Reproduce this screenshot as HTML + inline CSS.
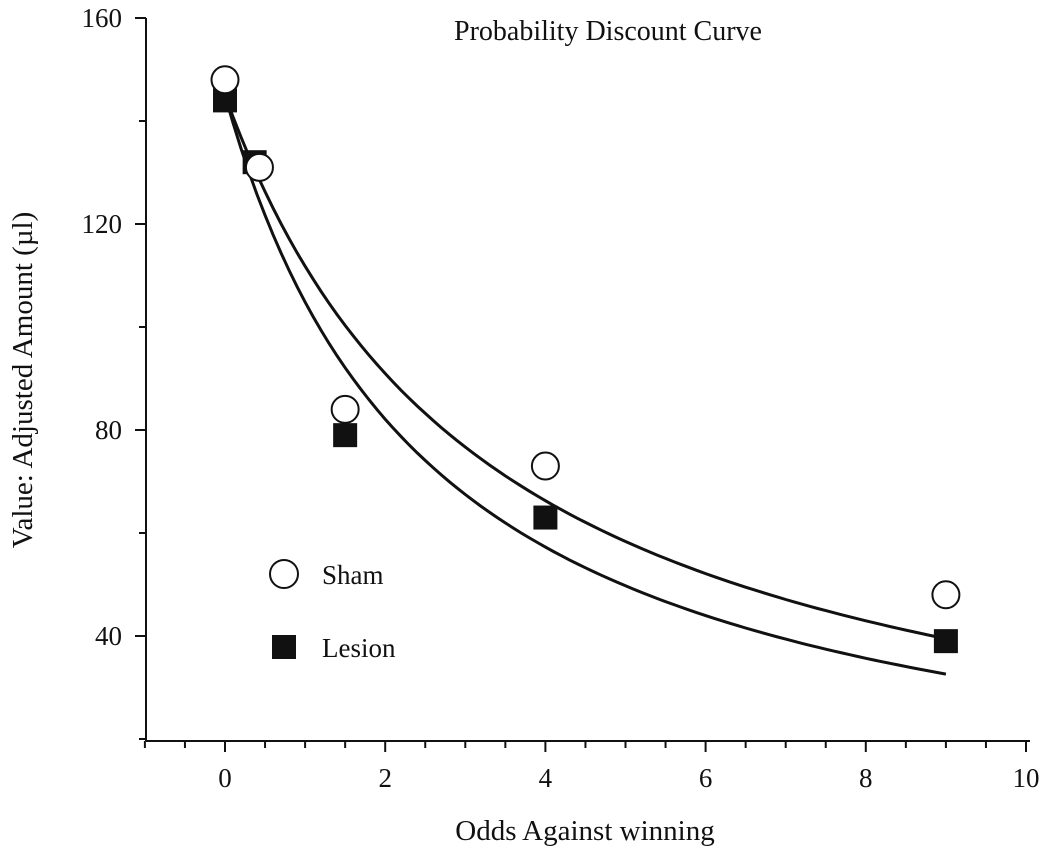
<!DOCTYPE html>
<html><head><meta charset="utf-8"><style>
body{margin:0;background:#fff;}
svg{display:block;font-family:"Liberation Serif",serif;}
</style></head><body>
<svg id="chart" width="1050" height="860"></svg>
<script>
const xTicks=[0,2,4,6,8,10];
const yTicks=[40,80,120,160];
const shamX=[0,0.43,1.5,4,9];
const shamY=[148,131,84,73,48];
const lesionX=[0,0.37,1.5,4,9];
const lesionY=[144,132,79,63,39];
const fitA=[145,145];
const fitH=[0.297,0.383];
const fitNames=['sham-fit-curve','lesion-fit-curve'];

const X=v=>225+(v-0)*80.1;
const Y=v=>18+(160-v)*5.15;
const svg=document.getElementById('chart');
const NS='http://www.w3.org/2000/svg';
function mk(tag,attrs,parent){const e=document.createElementNS(NS,tag);for(const k in attrs)e.setAttribute(k,attrs[k]);(parent||svg).appendChild(e);return e;}

const ax=mk('line',{x1:146,y1:18,x2:146,y2:741,stroke:'#111','stroke-width':2});


const ax2=mk('line',{x1:146,y1:741,x2:1030,y2:741,stroke:'#111','stroke-width':2});



for(let v=-1;v<=10.001;v+=0.5){
  const major=Math.abs(v-Math.round(v/2)*2)<1e-6;
  const t=mk('line',{x1:X(v),y1:741,x2:X(v),y2:741+(major?11:7),stroke:'#111','stroke-width':2});
  
  
}
xTicks.forEach(v=>{
  const t=mk('text',{x:X(v),y:787,'text-anchor':'middle','font-size':27,fill:'#111'});
  t.textContent=v;
  
  
});
for(let v=20;v<=160;v+=20){
  const major=v%40===0;
  const t=mk('line',{x1:146,y1:Y(v),x2:146-(major?11:7),y2:Y(v),stroke:'#111','stroke-width':2});
  
  
}
yTicks.forEach(v=>{
  const t=mk('text',{x:122,y:Y(v)+9,'text-anchor':'end','font-size':27,fill:'#111'});
  t.textContent=v;
  
  
});

let t=mk('text',{x:608,y:40,'text-anchor':'middle','font-size':28,fill:'#111'});
t.textContent='Probability Discount Curve';


t=mk('text',{x:585,y:840,'text-anchor':'middle','font-size':29,fill:'#111'});
t.textContent='Odds Against winning';


t=mk('text',{x:0,y:0,'text-anchor':'middle','font-size':29,fill:'#111',transform:'translate(32,380) rotate(-90)'});
t.textContent='Value: Adjusted Amount (\u00b5l)';



fitA.forEach((A,i)=>{
  let d='';
  for(let k=0;k<=90;k++){const x=k*0.1;const v=A/(1+fitH[i]*x);d+=(k?'L':'M')+X(x).toFixed(1)+','+Y(v).toFixed(1);}
  const p=mk('path',{d:d,fill:'none',stroke:'#111','stroke-width':3});
  
  
});

lesionX.forEach((x,i)=>{
  const r=mk('rect',{x:X(x)-11.5,y:Y(lesionY[i])-11.5,width:23,height:23,fill:'#111',stroke:'#111','stroke-width':1});
  
  
});
shamX.forEach((x,i)=>{
  const c=mk('circle',{cx:X(x),cy:Y(shamY[i]),r:13.5,fill:'#fff',stroke:'#111','stroke-width':2});
  
  
});

const lc=mk('circle',{cx:284,cy:574,r:14,fill:'#fff',stroke:'#111','stroke-width':2});


t=mk('text',{x:322,y:584,'font-size':27,fill:'#111'});
t.textContent='Sham';


const lr=mk('rect',{x:272,y:635,width:24,height:24,fill:'#111'});


t=mk('text',{x:322,y:657,'font-size':27,fill:'#111'});
t.textContent='Lesion';


</script>
</body></html>
